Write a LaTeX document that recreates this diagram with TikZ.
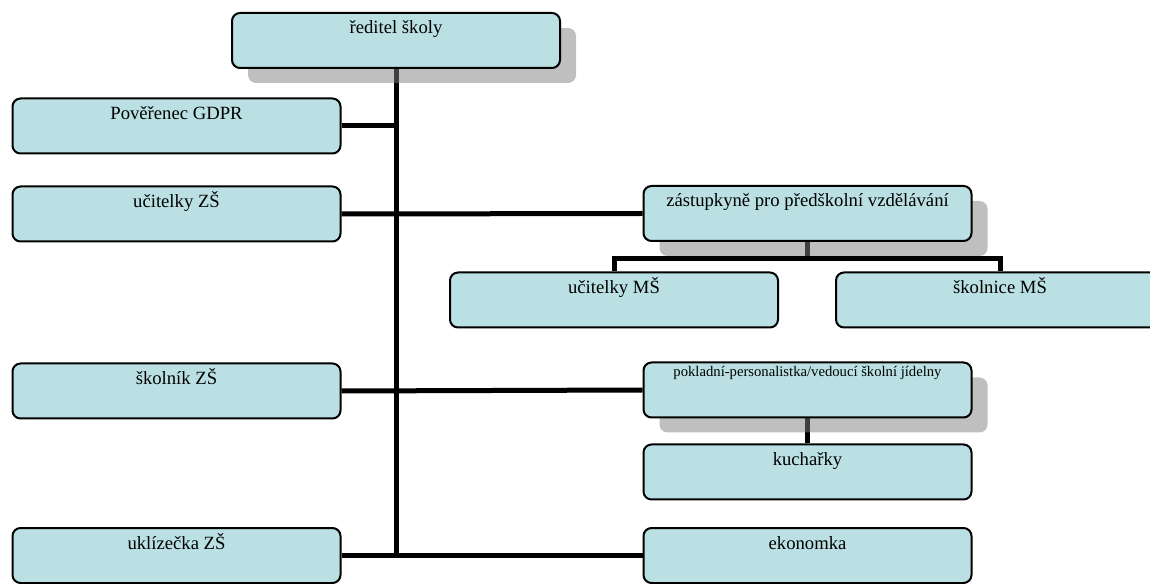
\documentclass[tikz,border=0pt]{standalone}
\usepackage{fontspec}
\setmainfont{Liberation Serif}
\usepackage{tikz}
\usetikzlibrary{shadows,backgrounds,positioning}
\definecolor{boxfill}{HTML}{BAE0E3}

\begin{document}
\begin{tikzpicture}[x=0.75pt,y=-0.75pt,
	box/.style={draw,line width=1.5pt,rounded corners=6pt,fill=boxfill,minimum width=246pt,inner xsep=0pt,inner ysep=0pt,text height=15.75pt,text depth=25.5pt,font=\fontsize{14}{16}\selectfont},
	shadowbox/.style={box,drop shadow={shadow xshift=12pt,shadow yshift=-11.25pt}},
	small/.style={font=\fontsize{11}{13}\selectfont,text height=10.5pt,text depth=30.75pt},
	link/.style={line width=3.75pt}]
	\useasboundingbox (0,0) rectangle (1150,584);
	\node[shadowbox] (1) at (396,40.5) {ředitel školy};
	\node[box] (2) at (176.5,126) {Pověřenec GDPR};
	\node[box] (3) at (176.5,214) {učitelky ZŠ};
	\node[shadowbox] (4) at (807.5,213.5) {zástupkyně pro předškolní vzdělávání};
	\node[box] (5) at (614,300) {učitelky MŠ};
	\node[box] (6) at (1000,300) {školnice MŠ};
	\node[box] (7) at (176.5,391) {školník ZŠ};
	\node[shadowbox,small] (8) at (807.5,390) {pokladní-personalistka/vedoucí školní jídelny};
	\node[box] (9) at (807.5,472) {kuchařky};
	\node[box] (10) at (176.5,555.5) {uklízečka ZŠ};
	\node[box] (11) at (807.5,555.5) {ekonomka};
	\coordinate (m) at (807.5,259);
	\begin{scope}[on background layer]
	\draw[link] (1.south) -- (1.south |- 10.east);
	\draw[link] (2.east) -- (2.east -| 1.south);
	\draw[link] (3.east) -- (4.west);
	\draw[link] (7.east) -- (8.west);
	\draw[link] (10.east) -- (11.west);
	\draw[link] (4.south) -- (m);
	\draw[link] (5.north) |- (m) -| (6.north);
	\draw[link] (8.south) -- (9.north);
	\end{scope}
\end{tikzpicture}
\end{document}
